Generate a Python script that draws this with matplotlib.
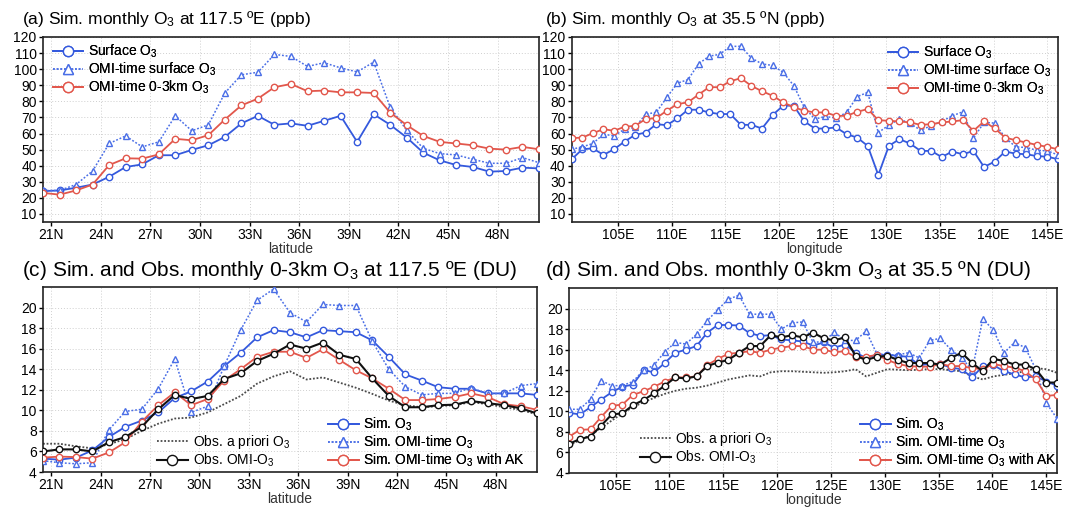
import numpy as np
import matplotlib
matplotlib.use("Agg")
import matplotlib.pyplot as plt

plt.rcParams['font.family'] = ['Liberation Sans', 'DejaVu Sans']
plt.rcParams['mathtext.default'] = 'regular'

# ---------------- data ----------------
lat = np.arange(20.5, 51.0, 1.0)            # 31 latitude points
lon = np.linspace(100.7, 146.0, 47)         # 47 longitude points

lat_ticks = [21, 24, 27, 30, 33, 36, 39, 42, 45, 48]
lat_labels = ['21N', '24N', '27N', '30N', '33N', '36N', '39N', '42N', '45N', '48N']
lon_ticks = [105, 110, 115, 120, 125, 130, 135, 140, 145]
lon_labels = ['105E', '110E', '115E', '120E', '125E', '130E', '135E', '140E', '145E']
ppb_ticks = [10, 20, 30, 40, 50, 60, 70, 80, 90, 100, 110, 120]
du_ticks = [4, 6, 8, 10, 12, 14, 16, 18, 20]

# (a) 117.5E, ppb
a_surface = [24.2, 24.6, 26.3, 28.3, 33.1, 39.2, 40.8, 46.5, 46.5, 49.8, 52.7, 57.9, 66.3, 71.0,
             65.4, 66.3, 64.8, 67.9, 71.0, 54.8, 72.0, 65.4, 57.5, 48.1, 43.3, 40.4, 39.2, 36.3,
             36.7, 38.8, 38.3]
a_omi_surface = [24.6, 24.6, 28.3, 36.7, 53.8, 58.5, 51.7, 54.8, 71.0, 61.7, 65.4, 85.2, 96.5, 98.1,
                 109.2, 107.9, 101.7, 104.0, 100.8, 98.3, 104.4, 76.3, 62.0, 50.8, 47.5, 46.7, 44.0,
                 41.5, 41.5, 45.0, 41.9]
a_omi_03km = [23.1, 22.0, 24.6, 28.3, 40.4, 44.6, 44.4, 47.0, 56.7, 55.8, 59.0, 68.7, 77.5, 81.7,
              88.8, 90.8, 86.3, 86.7, 85.6, 85.6, 85.2, 73.0, 65.2, 58.5, 54.8, 53.8, 52.7, 50.6,
              50.0, 51.7, 50.2]

# (b) 35.5N, ppb
b_surface = [44.0, 50.2, 50.8, 46.7, 50.2, 55.0, 59.2, 60.6, 65.8, 65.2, 69.4, 74.8, 74.8, 73.1,
             72.1, 72.1, 65.4, 65.4, 63.1, 71.5, 77.3, 77.3, 67.6, 63.1, 63.1, 63.8, 59.6, 57.5,
             52.3, 34.2, 52.3, 56.5, 53.8, 49.2, 49.2, 45.4, 48.8, 47.1, 49.2, 39.2, 42.5, 48.8,
             47.5, 47.1, 46.0, 45.6, 44.0]
b_omi_surface = [50.2, 51.7, 53.8, 59.6, 58.5, 62.7, 63.8, 72.1, 73.1, 82.5, 91.3, 93.5, 103.3, 108.1,
                 109.2, 114.2, 114.2, 106.9, 103.3, 102.3, 98.1, 89.8, 76.3, 69.0, 70.6, 69.6, 73.1,
                 82.9, 85.6, 60.6, 65.2, 69.0, 66.3, 62.1, 64.8, 67.5, 71.0, 73.5, 57.1, 66.9, 66.5,
                 57.5, 51.7, 51.3, 49.6, 49.2, 46.7]
b_omi_03km = [57.1, 57.5, 60.2, 62.7, 61.7, 64.2, 64.8, 69.0, 69.6, 74.2, 78.3, 79.4, 84.2, 88.8,
              88.8, 92.5, 94.4, 89.6, 86.3, 83.5, 79.4, 76.3, 74.2, 73.1, 73.1, 71.0, 71.0, 73.5,
              75.2, 68.3, 67.9, 67.5, 66.9, 65.4, 65.8, 66.9, 67.5, 68.3, 61.7, 67.5, 63.3, 57.5,
              55.8, 54.4, 52.9, 51.7, 50.2]

# (c) 117.5E, DU
c_apriori = [6.75, 6.75, 6.5, 6.3, 6.7, 7.2, 8.0, 8.7, 9.2, 9.3, 9.8, 10.6, 11.4, 12.6, 13.3, 13.8,
             13.0, 13.2, 12.7, 12.2, 11.6, 10.95, 10.5, 10.3, 10.4, 10.5, 10.8, 10.6, 10.3, 10.05, 9.6]
c_obs = [6.0, 6.2, 6.2, 6.0, 6.9, 7.4, 8.4, 10.1, 11.5, 11.1, 11.4, 13.05, 13.6, 14.8, 15.5, 16.4,
         16.0, 16.6, 15.4, 15.0, 13.1, 11.4, 10.3, 10.3, 10.5, 10.55, 10.9, 10.7, 10.5, 10.2, 9.7]
c_sim = [5.3, 5.2, 5.4, 6.1, 7.4, 8.4, 9.0, 9.8, 11.2, 11.85, 12.8, 14.3, 15.6, 17.1, 17.8, 17.6,
         17.1, 17.8, 17.7, 17.6, 16.8, 15.2, 13.5, 12.9, 12.25, 12.1, 12.1, 11.65, 11.65, 11.65, 11.5]
c_sim_omi = [5.1, 4.9, 4.8, 4.9, 8.1, 9.9, 10.1, 12.1, 15.0, 9.8, 10.4, 14.3, 17.8, 20.7, 21.8, 19.5,
             18.6, 20.3, 20.2, 20.2, 16.7, 14.0, 12.3, 11.5, 11.65, 11.65, 12.2, 11.6, 11.65, 12.4, 12.6]
c_sim_ak = [5.4, 5.5, 5.45, 5.3, 5.9, 6.9, 8.9, 10.5, 11.75, 10.5, 11.1, 12.9, 14.0, 15.2, 15.7, 15.7,
            15.1, 15.95, 14.9, 13.9, 13.1, 12.1, 11.0, 11.0, 11.1, 11.3, 11.65, 11.3, 10.6, 10.4, 10.05]

# (d) 35.5N, DU
d_apriori = [6.7, 7.2, 7.7, 8.4, 9.1, 9.8, 10.4, 10.9, 11.3, 11.7, 12.0, 12.2, 12.3, 12.5, 12.8, 13.1,
             13.3, 13.5, 13.4, 13.8, 13.9, 13.9, 13.85, 13.8, 13.75, 13.8, 13.9, 14.1, 13.4, 13.75,
             14.1, 14.05, 14.0, 14.05, 14.1, 14.1, 14.0, 13.9, 13.4, 13.1, 13.4, 13.55, 13.7, 13.9,
             14.2, 14.1, 13.75]
d_obs = [6.85, 7.3, 7.55, 8.6, 9.7, 9.8, 10.6, 11.1, 11.75, 12.5, 13.3, 13.2, 13.4, 14.4, 14.75, 15.0,
         15.7, 16.35, 16.35, 17.4, 17.2, 17.4, 17.2, 17.65, 17.1, 16.9, 17.2, 15.4, 15.0, 15.3, 15.4,
         15.0, 14.7, 14.7, 14.7, 14.55, 15.2, 15.7, 14.7, 13.9, 15.1, 14.9, 14.55, 14.55, 14.1, 12.8, 12.8]
d_sim = [9.85, 9.7, 10.4, 11.15, 11.85, 12.4, 12.6, 14.0, 13.8, 14.7, 15.7, 16.0, 16.35, 17.65, 18.4,
         18.4, 18.35, 17.6, 17.35, 17.4, 17.0, 16.9, 16.8, 16.4, 16.7, 16.2, 16.5, 15.7, 15.2, 15.5,
         15.5, 15.4, 15.3, 14.5, 14.6, 14.6, 14.25, 14.1, 13.3, 14.4, 14.5, 13.9, 13.6, 13.3, 13.4, 12.9, 12.5]
d_sim_omi = [10.2, 10.2, 11.2, 13.0, 12.5, 12.5, 12.9, 14.0, 14.5, 15.8, 16.7, 16.55, 17.5, 18.8, 19.9,
             20.9, 21.3, 19.45, 19.45, 19.45, 18.0, 18.6, 18.7, 16.7, 16.8, 17.7, 16.9, 16.9, 17.8,
             15.6, 15.5, 15.5, 15.7, 15.2, 16.9, 17.1, 16.0, 15.2, 14.0, 19.0, 17.9, 15.7, 16.7, 16.2,
             14.1, 10.8, 9.3]
d_sim_ak = [7.55, 8.2, 8.25, 9.45, 10.55, 10.65, 11.6, 11.95, 12.4, 12.9, 13.3, 13.3, 13.4, 14.5, 15.1,
            15.6, 15.7, 15.85, 15.7, 16.0, 16.2, 16.35, 16.35, 16.0, 16.0, 15.75, 15.85, 15.3, 15.3,
            15.5, 15.0, 14.6, 14.4, 14.35, 14.35, 14.6, 14.4, 14.4, 14.2, 14.1, 14.6, 14.4, 14.25,
            13.9, 13.1, 11.5, 11.6]

# ---------------- styles ----------------
BLUE = '#3459dd'
BLUE2 = '#4a6ee6'
RED = '#e2574c'
BLACK = '#111111'
GRAY = '#4a4a4a'
W, H = 1068, 509

fig = plt.figure(figsize=(W / 100, H / 100), dpi=100)


def px_axes(l, t, r, b):
    return fig.add_axes([l / W, 1 - b / H, (r - l) / W, (b - t) / H])


def style(ax, xticks, xlabels, yticks, xlim, ylim, xlabel):
    ax.set_xlim(*xlim)
    ax.set_ylim(*ylim)
    ax.set_xticks(xticks)
    ax.set_xticklabels(xlabels)
    ax.set_yticks(yticks)
    ax.grid(True, linestyle=(0, (1, 2)), color='#cfcfcf', linewidth=0.7)
    ax.set_axisbelow(True)
    for s in ax.spines.values():
        s.set_linewidth(1.2)
        s.set_color('#222222')
    ax.tick_params(direction='out', length=3, width=1, labelsize=10, pad=1.5)
    ax.set_xlabel(xlabel, fontsize=10, labelpad=0, color='#333333')


def circ(ax, x, y, color, label, lw=1.3, z=3):
    return ax.plot(x, y, '-', color=color, lw=lw, marker='o', ms=4.6, mfc='white',
                   mec=color, mew=1.0, label=label, zorder=z)[0]


def tri(ax, x, y, color, label, z=3):
    return ax.plot(x, y, linestyle=(0, (1.2, 1.2)), color=color, lw=1.1, marker='^', ms=4.6,
                   mfc='white', mec=color, mew=1.0, label=label, zorder=z)[0]


def leg(ax, handles, x, y):
    L = ax.legend(handles=handles, loc='upper left', bbox_to_anchor=(x, y), frameon=False,
                  fontsize=10, handlelength=2.2, handletextpad=0.35, labelspacing=0.05,
                  borderpad=0, borderaxespad=0, markerscale=1.6)
    ax.add_artist(L)
    return L


def title(x, y, s, size):
    fig.text(x / W, 1 - y / H, s, fontsize=size, va='center', ha='left')


# (a)
axA = px_axes(43, 37, 539, 222)
h1 = circ(axA, lat, a_surface, BLUE, 'Surface O$_3$')
h2 = tri(axA, lat, a_omi_surface, BLUE2, 'OMI-time surface O$_3$')
h3 = circ(axA, lat, a_omi_03km, RED, 'OMI-time 0-3km O$_3$')
style(axA, lat_ticks, lat_labels, ppb_ticks, (20.5, 50.5), (5, 120), 'latitude')
leg(axA, [h1, h2, h3], 0.020, 0.970)
title(22, 19, '(a) Sim. monthly O$_3$ at 117.5 ºE (ppb)', 12.5)

# (b)
axB = px_axes(571.7, 37, 1058, 222)
h1 = circ(axB, lon, b_surface, BLUE, 'Surface O$_3$')
h2 = tri(axB, lon, b_omi_surface, BLUE2, 'OMI-time surface O$_3$')
h3 = circ(axB, lon, b_omi_03km, RED, 'OMI-time 0-3km O$_3$')
style(axB, lon_ticks, lon_labels, ppb_ticks, (lon[0], lon[-1]), (5, 120), 'longitude')
leg(axB, [h1, h2, h3], 0.650, 0.965)
title(545, 19, '(b) Sim. monthly O$_3$ at 35.5 ºN (ppb)', 12.5)


def panel_du(ax, x, apr, obs, sim, simomi, simak, xt, xl, xlim, xlabel, lx1, ly1, lx2, ly2):
    g = ax.plot(x, apr, linestyle=(0, (1, 1)), color=GRAY, lw=1.3, label='Obs. a priori O$_3$', zorder=2)[0]
    s1 = circ(ax, x, sim, BLUE, 'Sim. O$_3$', z=3)
    s2 = tri(ax, x, simomi, BLUE2, 'Sim. OMI-time O$_3$', z=3)
    s3 = circ(ax, x, simak, RED, 'Sim. OMI-time O$_3$ with AK', z=4)
    o = circ(ax, x, obs, BLACK, 'Obs. OMI-O$_3$', lw=1.5, z=5)
    style(ax, xt, xl, du_ticks, xlim, (4, 22), xlabel)
    leg(ax, [g, o], lx1, ly1)
    leg(ax, [s1, s2, s3], lx2, ly2)


axC = px_axes(43, 287, 537, 472)
panel_du(axC, lat, c_apriori, c_obs, c_sim, c_sim_omi, c_sim_ak, lat_ticks, lat_labels,
         (20.5, 50.5), 'latitude', 0.231, 0.210, 0.577, 0.305)
title(22, 271, '(c) Sim. and Obs. monthly 0-3km O$_3$ at 117.5 ºE (DU)', 15)

axD = px_axes(569.3, 288, 1057, 473)
panel_du(axD, lon, d_apriori, d_obs, d_sim, d_sim_omi, d_sim_ak, lon_ticks, lon_labels,
         (lon[0], lon[-1]), 'longitude', 0.145, 0.232, 0.596, 0.310)
title(545, 271, '(d) Sim. and Obs. monthly 0-3km O$_3$ at 35.5 ºN (DU)', 15)

fig.savefig('out.png', dpi=100)
